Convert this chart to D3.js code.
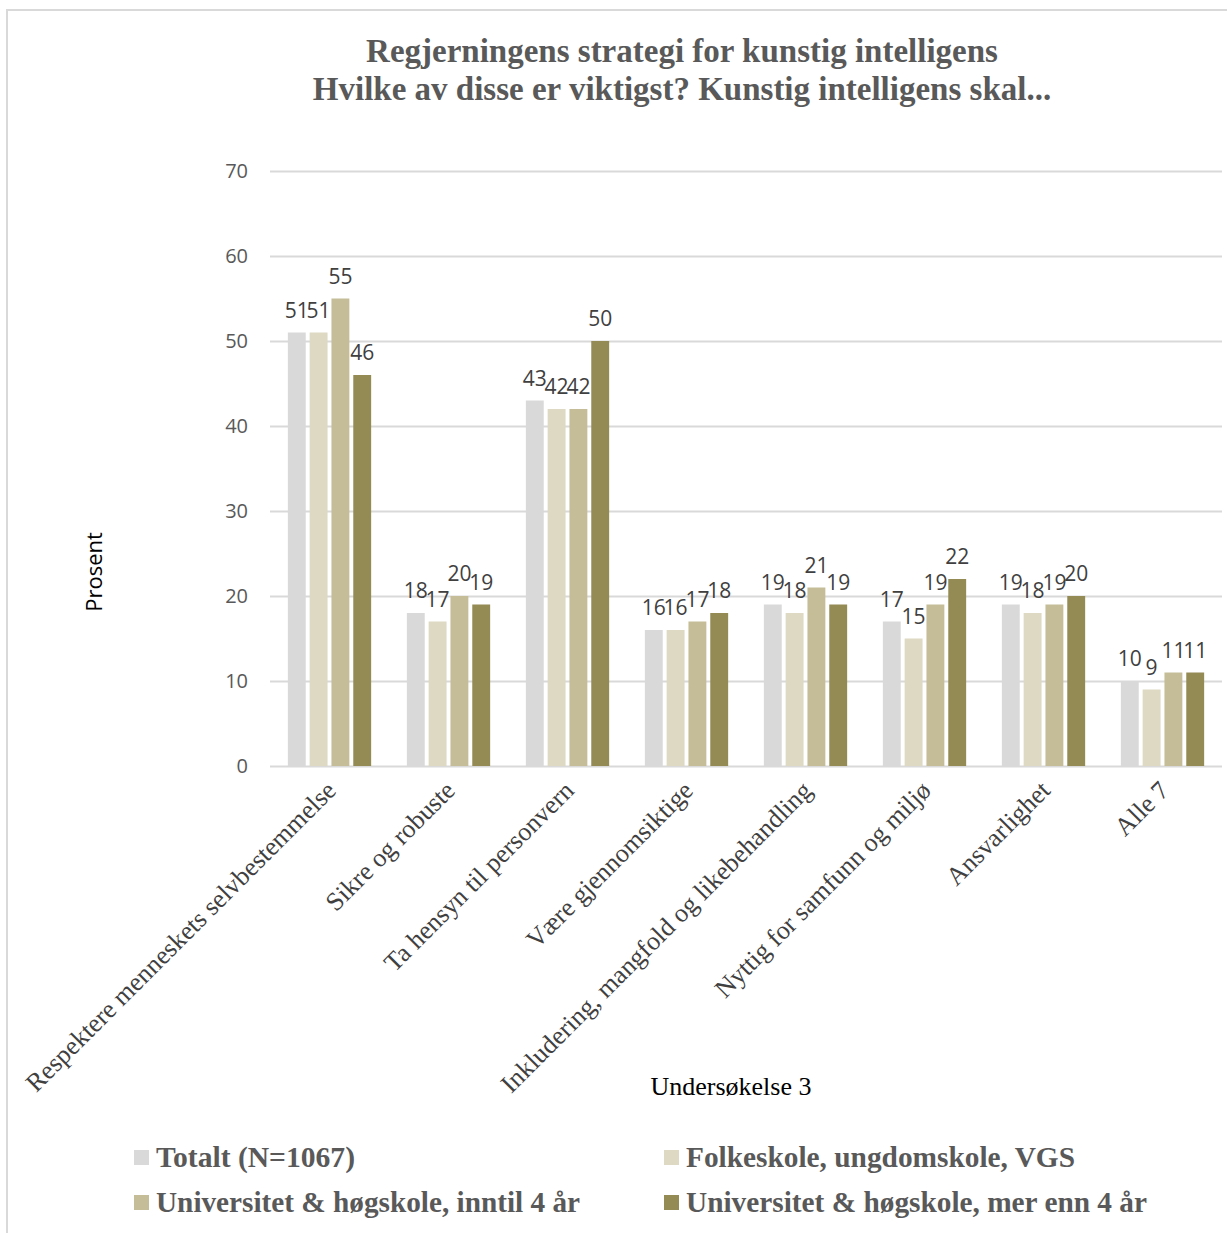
<!DOCTYPE html>
<html>
<head>
<meta charset="utf-8">
<script src="https://cdn.jsdelivr.net/npm/d3@7"></script>
<style>
  body { margin: 0; background: #fff; }
  svg text { font-kerning: normal; }
</style>
</head>
<body>
<div id="chart"></div>
<script>
const categories = [
  'Respektere menneskets selvbestemmelse',
  'Sikre og robuste',
  'Ta hensyn til personvern',
  'Være gjennomsiktige',
  'Inkludering, mangfold og likebehandling',
  'Nyttig for samfunn og miljø',
  'Ansvarlighet',
  'Alle 7'
];
const seriesNames = [
  'Totalt (N=1067)',
  'Folkeskole, ungdomskole, VGS',
  'Universitet & høgskole, inntil 4 år',
  'Universitet & høgskole, mer enn 4 år'
];
const totalt = [51, 18, 43, 16, 19, 17, 19, 10];
const folkeskole = [51, 17, 42, 16, 18, 15, 18, 9];
const uniInntil4 = [55, 20, 42, 17, 21, 19, 19, 11];
const uniMerEnn4 = [46, 19, 50, 18, 19, 22, 20, 11];
const yTicks = [0, 10, 20, 30, 40, 50, 60, 70];
const colors = ['#d9d9d9', '#ddd9c3', '#c4bd97', '#948a54'];

const series = [totalt, folkeskole, uniInntil4, uniMerEnn4];

const width = 1227, height = 1233;
const plot = {left: 270, right: 1222, top: 171, bottom: 766};

const svg = d3.select('#chart').append('svg')
  .attr('width', width)
  .attr('height', height);

// outer border (chart area is cut off at right/bottom)
svg.append('path')
  .attr('d', `M7,${height} V10 H${width}`)
  .attr('fill', 'none')
  .attr('stroke', '#d9d9d9')
  .attr('stroke-width', 2);

const serif = '"Liberation Serif", "Times New Roman", serif';
const sans = '"Open Sans", "Liberation Sans", sans-serif';

// title
const title = svg.append('text')
  .attr('text-anchor', 'middle')
  .attr('font-family', serif)
  .attr('font-weight', 'bold')
  .attr('font-size', 33)
  .attr('fill', '#595959');
title.append('tspan').attr('x', 682).attr('y', 62).text('Regjerningens strategi for kunstig intelligens');
title.append('tspan').attr('x', 682).attr('y', 100).text('Hvilke av disse er viktigst? Kunstig intelligens skal...');

const x0 = d3.scaleBand()
  .domain(categories)
  .range([plot.left, plot.right])
  .paddingInner(0.3)
  .paddingOuter(0.15);

const x1 = d3.scaleBand()
  .domain(d3.range(series.length))
  .range([0, x0.bandwidth()])
  .paddingInner(0.18)
  .paddingOuter(0);

const y = d3.scaleLinear()
  .domain([0, 70])
  .range([plot.bottom, plot.top]);

// gridlines + y labels
const yAxis = d3.axisLeft(y)
  .tickValues(yTicks)
  .tickSize(-(plot.right - plot.left))
  .tickPadding(22);

const yg = svg.append('g')
  .attr('transform', `translate(${plot.left},0)`)
  .call(yAxis);
yg.select('.domain').remove();
yg.selectAll('.tick line').attr('stroke', '#d9d9d9').attr('stroke-width', 2);
yg.selectAll('.tick text')
  .attr('font-family', sans)
  .attr('font-size', 20)
  .attr('fill', '#595959');

// bars
const groups = svg.append('g').selectAll('g')
  .data(categories)
  .join('g')
  .attr('transform', d => `translate(${x0(d)},0)`);

groups.selectAll('rect')
  .data((d, i) => series.map((s, k) => ({k, v: s[i]})))
  .join('rect')
  .attr('x', d => x1(d.k))
  .attr('y', d => y(d.v))
  .attr('width', x1.bandwidth())
  .attr('height', d => y(0) - y(d.v))
  .attr('fill', d => colors[d.k]);

groups.selectAll('text.val')
  .data((d, i) => series.map((s, k) => ({k, v: s[i]})))
  .join('text')
  .attr('class', 'val')
  .attr('x', d => x1(d.k) + x1.bandwidth() / 2)
  .attr('y', d => y(d.v) - 15)
  .attr('text-anchor', 'middle')
  .attr('font-family', sans)
  .attr('font-size', 21)
  .attr('fill', '#404040')
  .text(d => d.v);

// category labels
svg.append('g').selectAll('text')
  .data(categories)
  .join('text')
  .attr('transform', d => `translate(${x0(d) + x0.bandwidth() / 2 + 8},${plot.bottom + 26}) rotate(-45)`)
  .attr('text-anchor', 'end')
  .attr('font-family', serif)
  .attr('font-size', 26)
  .attr('fill', '#404040')
  .text(d => d);

// axis titles
svg.append('text')
  .attr('transform', 'translate(102,572) rotate(-90)')
  .attr('text-anchor', 'middle')
  .attr('font-family', sans)
  .attr('font-size', 22)
  .attr('fill', '#000')
  .text('Prosent');

svg.append('text')
  .attr('x', 731)
  .attr('y', 1095)
  .attr('text-anchor', 'middle')
  .attr('font-family', serif)
  .attr('font-size', 26)
  .attr('fill', '#000')
  .text('Undersøkelse 3');

// legend
const legendPos = [[134, 1167], [664, 1167], [134, 1212], [664, 1212]];
const legendWidths = [199, 389, 424, 461];
const legend = svg.append('g').selectAll('g')
  .data(seriesNames)
  .join('g')
  .attr('transform', (d, i) => `translate(${legendPos[i][0]},${legendPos[i][1]})`);

legend.append('rect')
  .attr('x', 0)
  .attr('y', -17)
  .attr('width', 15)
  .attr('height', 15)
  .attr('fill', (d, i) => colors[i]);

legend.append('text')
  .attr('x', 22)
  .attr('y', 0)
  .attr('font-family', serif)
  .attr('font-weight', 'bold')
  .attr('font-size', 29)
  .attr('fill', '#595959')
  .attr('textLength', (d, i) => legendWidths[i])
  .attr('lengthAdjust', 'spacingAndGlyphs')
  .text(d => d);
</script>
</body>
</html>
